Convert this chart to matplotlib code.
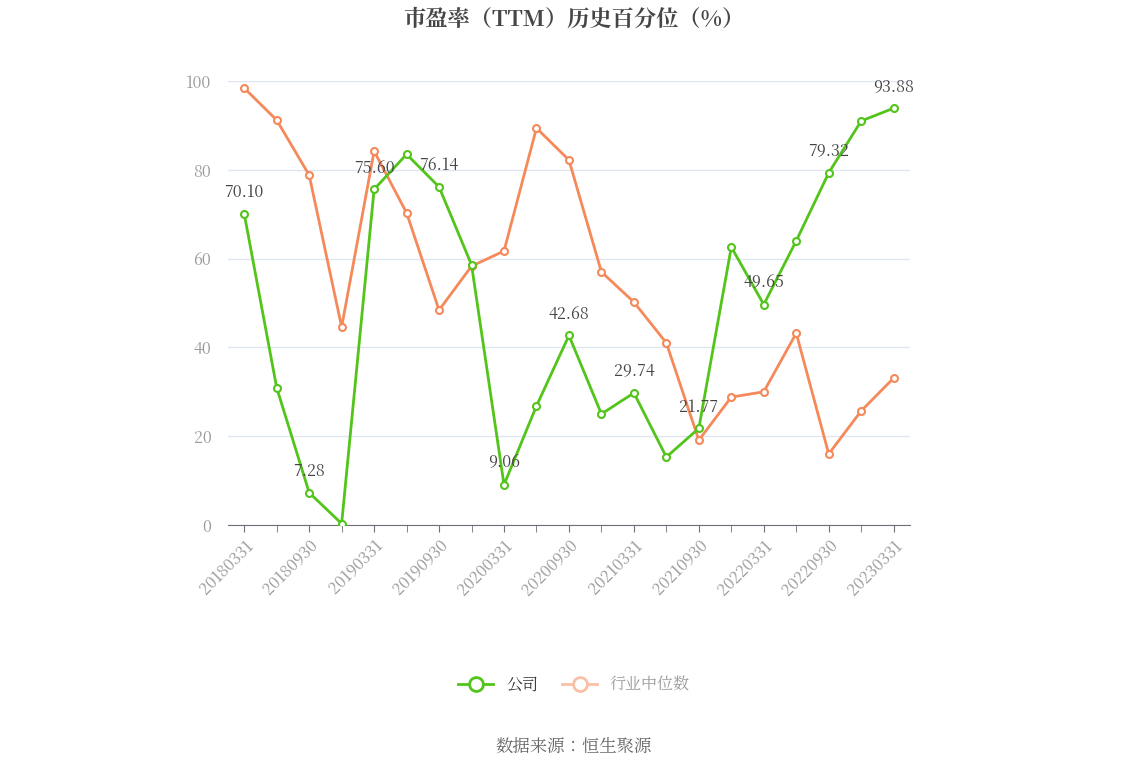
import matplotlib
matplotlib.use("Agg")
import matplotlib.pyplot as plt
from matplotlib.lines import Line2D
from matplotlib import font_manager as fm

cjk = None
for f in fm.fontManager.ttflist:
    if "CJK" in f.name and ("SC" in f.name or cjk is None):
        cjk = f.name
if cjk is None:
    for p in fm.findSystemFonts():
        if "CJK" in p or "cjk" in p.lower():
            fm.fontManager.addfont(p)
    for f in fm.fontManager.ttflist:
        if "CJK" in f.name:
            cjk = f.name
            if "SC" in f.name:
                break
plt.rcParams["font.family"] = [cjk or "Noto Sans CJK SC", "DejaVu Sans"]

dates = ["20180331","20180630","20180930","20181231","20190331","20190630","20190930","20191231",
         "20200331","20200630","20200930","20201231","20210331","20210630","20210930","20211231",
         "20220331","20220630","20220930","20221231","20230331"]
company = [70.10,30.9,7.28,0.3,75.60,83.5,76.14,58.6,9.06,26.8,42.68,25.0,29.74,15.3,21.77,62.6,
           49.65,64.0,79.32,91.0,93.88]
industry = [98.4,91.2,78.8,44.6,84.2,70.3,48.4,58.3,61.7,89.4,82.2,57.0,50.2,41.0,19.1,28.8,
            30.0,43.2,16.0,25.7,33.1]
label_idx = [0,2,4,6,8,10,12,14,16,18,20]

green = "#52c41a"
orange = "#f5895a"

fig = plt.figure(figsize=(11.48, 7.76), dpi=100)
ax = fig.add_axes([0.1986, 0.3235, 0.594, 0.5721])
x = list(range(len(dates)))
ax.plot(x, industry, color=orange, lw=2, marker="o", ms=5, mfc="white", mec=orange, mew=1.5, zorder=3)
ax.plot(x, company, color=green, lw=2, marker="o", ms=5, mfc="white", mec=green, mew=1.5, zorder=4)
for i in label_idx:
    ax.annotate(f"{company[i]:.2f}", (x[i], company[i]), xytext=(0, 9), textcoords="offset points",
                ha="center", va="bottom", fontsize=11.5, color="#444444", zorder=5)

ax.set_xlim(-0.5, len(dates) - 0.5)
ax.set_ylim(0, 100)
ax.set_yticks([0, 20, 40, 60, 80, 100])
ax.grid(axis="y", color="#e0e6f1", lw=1)
ax.set_axisbelow(True)
for s in ["top", "right", "left"]:
    ax.spines[s].set_visible(False)
ax.spines["bottom"].set_color("#6e7079")
ax.tick_params(axis="y", length=0, colors="#999999", labelsize=11.5, pad=12)
ax.set_xticks(x[::2])
ax.set_xticklabels(dates[::2], rotation=45, ha="right", rotation_mode="anchor", fontsize=11.5, color="#999999")
ax.set_xticks(x, minor=True)
ax.tick_params(axis="x", which="both", length=5, color="#6e7079")

fig.text(0.5, 0.975, "市盈率（TTM）历史百分位（%）", ha="center", va="center", fontsize=16,
         fontweight="bold", color="#464646")

handles = [Line2D([], [], color=green, lw=2, marker="o", ms=10, mfc="white", mec=green, mew=2),
           Line2D([], [], color="#f9c0a6", lw=2, marker="o", ms=10, mfc="white", mec="#f9c0a6", mew=2)]
leg = fig.legend(handles, ["公司", "行业中位数"], loc="center", bbox_to_anchor=(0.5, 0.117), ncol=2,
                 frameon=False, fontsize=11.5, handlelength=2.2, columnspacing=1.5)
leg.get_texts()[0].set_color("#333333")
leg.get_texts()[1].set_color("#999999")

fig.text(0.5, 0.036, "数据来源：恒生聚源", ha="center", va="center", fontsize=12.5, color="#666666")

fig.savefig("out.png", dpi=100)
